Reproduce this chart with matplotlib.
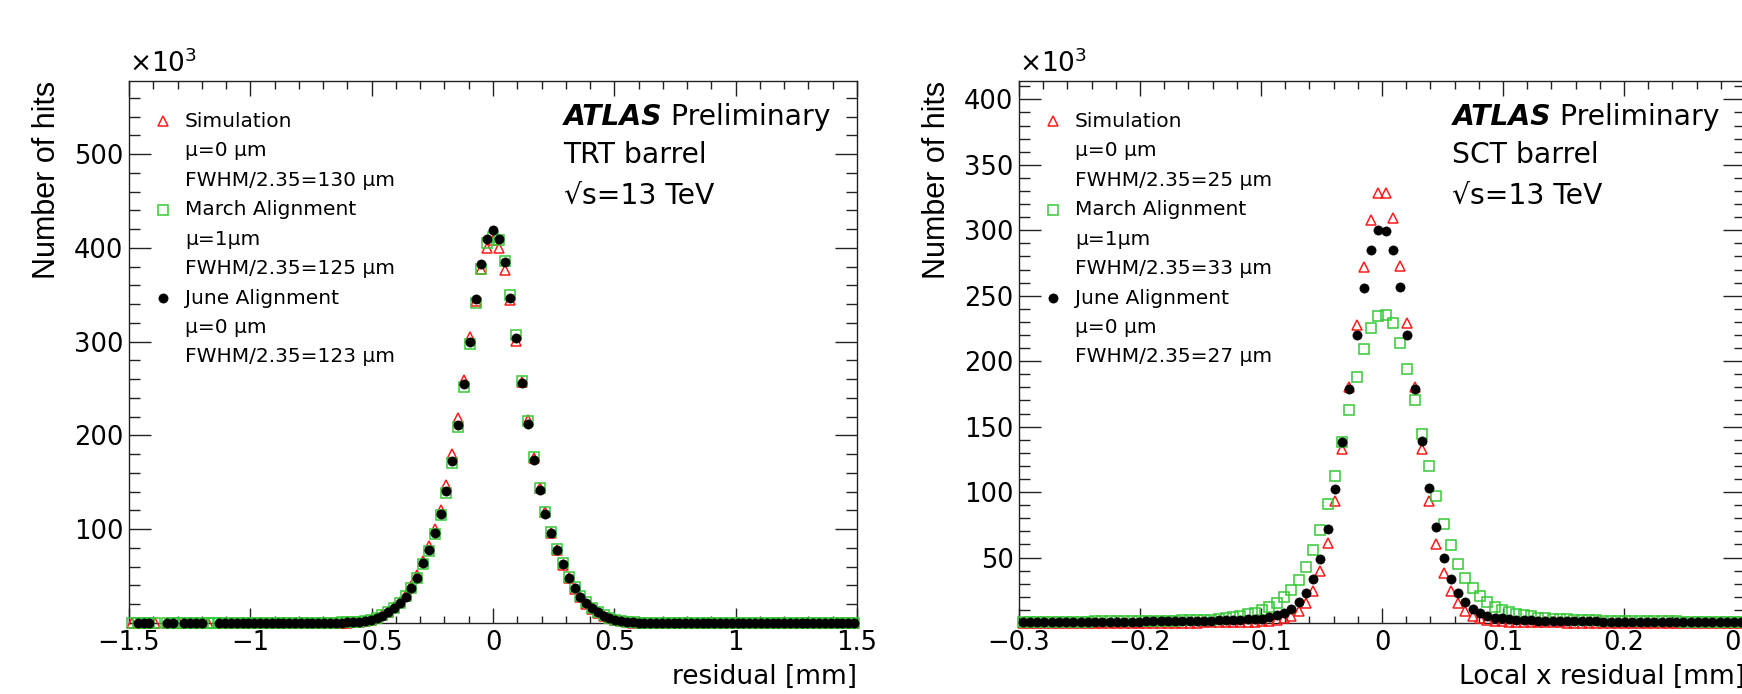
import numpy as np
import matplotlib.pyplot as plt
from matplotlib.ticker import MultipleLocator

plt.rcParams['font.family'] = ['DejaVu Sans']
plt.rcParams['mathtext.fontset'] = 'dejavusans'

nan = np.nan

# TRT barrel residuals: 125 bins in [-1.5, 1.5] mm, counts in 10^3 hits
trt_range = (-1.5, 1.5)
trt_nbins = 125
trt_sim = [
    0.1, 0.1, nan, 0.1, 0.1, nan, 0.1, nan, 0.1, 0.1,
    0.1, 0.1, 0.1, 0.1, nan, 0.1, 0.1, 0.1, 0.1, 0.1,
    0.1, 0.1, 0.1, 0.1, 0.1, 0.1, 0.1, 0.2, 0.2, 0.2,
    0.2, 0.2, 0.2, 0.3, 0.3, 0.3, 0.4, 0.5, 0.8, 1.3,
    2.1, 3.5, 5.6, 8.4, 12, 17, 22.5, 30, 39.5, 51,
    66, 82, 100, 121, 147, 180, 219, 259, 305, 343,
    378, 400, 408, 400, 376, 344, 301, 257, 216, 176,
    144, 118, 96, 78, 62, 48, 36.5, 27.5, 20.5, 15,
    10.8, 7.5, 4.8, 3.0, 1.7, 0.9, 0.5, 0.3, 0.2, 0.2,
    0.2, 0.2, 0.2, 0.2, 0.2, 0.2, 0.2, 0.2, 0.2, 0.2,
    0.1, 0.1, 0.1, 0.1, 0.1, 0.1, 0.1, 0.1, 0.1, 0.1,
    0.1, 0.1, 0.1, 0.1, 0.1, 0.1, 0.1, 0.1, 0.1, 0.1,
    0.1, 0.1, 0.1, 0.1, 0.1,
]
trt_march = [
    0.3, 0.3, 0.3, 0.3, 0.3, nan, 0.3, 0.3, 0.3, 0.3,
    0.3, 0.3, 0.3, 0.3, 0.3, 0.3, 0.3, 0.3, 0.3, 0.3,
    0.3, 0.3, 0.3, 0.3, 0.3, 0.3, 0.4, 0.4, 0.4, 0.4,
    0.4, 0.4, 0.4, 0.5, 0.5, 0.5, 0.6, 0.7, 0.9, 1.3,
    2.2, 3.5, 5.5, 8.2, 11.8, 16.5, 21.5, 28.5, 37.5, 47.5,
    63, 77, 95, 115, 139, 171, 209, 251.6, 298, 341,
    378, 405, 412, 408, 386, 349.5, 307, 258, 215, 177,
    144, 118, 97, 79, 64, 49, 38, 29, 22, 16.3,
    11.8, 8.3, 5.4, 3.6, 2.1, 1.2, 0.7, 0.5, 0.5, 0.4,
    0.4, 0.4, 0.4, 0.4, 0.4, 0.4, 0.4, 0.4, 0.4, 0.4,
    0.4, 0.4, 0.4, 0.4, 0.4, 0.3, 0.3, 0.3, 0.3, 0.3,
    0.3, 0.3, 0.3, 0.3, 0.3, 0.3, 0.3, 0.3, 0.3, 0.3,
    0.3, 0.3, 0.3, 0.3, 0.3,
]
trt_june = [
    nan, 0.2, 0.2, 0.2, nan, nan, 0.2, 0.2, nan, 0.2,
    0.2, 0.2, 0.2, nan, nan, 0.2, 0.2, 0.2, 0.2, 0.2,
    0.2, 0.2, 0.2, 0.2, 0.2, 0.2, 0.3, 0.3, 0.3, 0.3,
    0.3, 0.3, 0.3, 0.4, 0.4, 0.4, 0.5, 0.6, 0.8, 1.2,
    2.0, 3.3, 5.2, 7.9, 11.4, 16, 21, 28, 37.5, 48,
    64, 78, 96, 116.4, 141, 173, 211, 255, 300, 345,
    383, 410, 419, 409, 385, 347, 304, 256, 212.5, 174,
    142, 116.4, 95.8, 78, 63, 48, 37, 28, 21.4, 15.7,
    11.4, 7.9, 5.0, 3.3, 1.8, 1.0, 0.6, 0.4, 0.4, 0.3,
    0.3, 0.3, 0.3, 0.3, 0.3, 0.3, 0.3, 0.3, 0.3, 0.3,
    0.3, 0.3, 0.3, 0.2, 0.2, 0.2, 0.2, 0.2, 0.2, 0.2,
    0.2, 0.2, 0.2, 0.2, 0.2, 0.2, 0.2, 0.2, 0.2, 0.2,
    0.2, 0.2, 0.2, 0.2, 0.2,
]

# SCT barrel local x residuals: 100 bins in [-0.3, 0.3] mm, counts in 10^3 hits
sct_range = (-0.3, 0.3)
sct_nbins = 100
sct_sim = [
    0.1, 0.1, 0.1, 0.1, 0.1, 0.1, 0.1, 0.1, 0.1, 0.1,
    0.1, 0.1, 0.1, 0.1, 0.1, 0.2, 0.2, 0.2, 0.2, 0.2,
    0.2, 0.2, 0.3, 0.3, 0.3, 0.4, 0.4, 0.5, 0.6, 0.7,
    0.8, 0.9, 1.1, 1.3, 1.5, 2.3, 3.5, 5.4, 9.2, 15.5,
    24.5, 39.8, 61, 93.4, 133, 180, 228, 272, 308, 328.7,
    328.7, 309, 272.7, 229, 180, 133, 93, 60, 38, 24.5,
    15.5, 9, 5.4, 3.5, 2.3, 1.5, 1.2, 1.0, 0.8, 0.7,
    0.6, 0.5, 0.5, 0.4, 0.4, 0.3, 0.3, 0.3, 0.2, 0.2,
    0.2, 0.2, 0.2, 0.2, 0.2, 0.2, 0.2, 0.2, 0.2, 0.2,
    0.1, 0.1, 0.1, 0.1, 0.1, 0.1, 0.1, 0.1, 0.1, 0.1,
]
sct_march = [
    0.8, 0.8, 0.9, 0.9, 0.9, 1.0, 1.0, 1.0, 1.1, 1.1,
    1.2, 1.2, 1.3, 1.3, 1.4, 1.4, 1.5, 1.6, 1.6, 1.7,
    1.8, 1.9, 2.0, 2.1, 2.2, 2.4, 2.6, 2.8, 3.5, 4.4,
    5.4, 6.6, 7.9, 10, 12.5, 15.6, 20, 25, 32.7, 42.4,
    55.6, 71, 91, 112.6, 138, 163, 187.8, 209, 225.4, 234.5,
    235.6, 229, 214, 193.7, 170.5, 144.5, 119.7, 96.7, 76, 59.5,
    45.4, 34.7, 27, 20.7, 16, 12.5, 10, 8.4, 6.9, 5.9,
    5.0, 4.2, 3.7, 3.2, 2.9, 2.7, 2.5, 2.3, 2.2, 2.0,
    1.9, 1.8, 1.7, 1.6, 1.5, 1.5, 1.4, 1.3, 1.3, 1.2,
    1.2, 1.1, 1.1, 1.0, 1.0, 1.0, 0.9, 0.9, 0.9, 0.9,
]
sct_june = [
    0.5, 0.5, 0.6, 0.6, 0.6, 0.7, 0.7, 0.7, 0.8, 0.8,
    0.8, 0.9, 0.9, 1.0, 1.0, 1.1, 1.1, 1.2, 1.2, 1.3,
    1.4, 1.4, 1.5, 1.6, 1.7, 1.8, 1.9, 2.0, 2.2, 2.4,
    2.6, 2.9, 3.1, 3.4, 4.4, 5.9, 7.9, 11, 15.8, 23,
    33.5, 48.8, 71.5, 102, 138, 179, 219.7, 256, 284.8, 300.2,
    299.6, 285, 256.5, 220, 179, 139, 103, 73, 49.5, 33.4,
    23, 16, 11, 7.4, 5.5, 4.2, 3.5, 3.0, 2.6, 2.3,
    2.1, 1.9, 1.8, 1.7, 1.6, 1.5, 1.4, 1.3, 1.2, 1.2,
    1.1, 1.0, 1.0, 0.9, 0.9, 0.8, 0.8, 0.8, 0.7, 0.7,
    0.7, 0.6, 0.6, 0.6, 0.6, 0.5, 0.5, 0.5, 0.5, 0.5,
]

series_labels = ["Simulation", "March Alignment", "June Alignment"]
trt_info = [["\u03bc=0 \u03bcm", "FWHM/2.35=130 \u03bcm"],
            ["\u03bc=1\u03bcm", "FWHM/2.35=125 \u03bcm"],
            ["\u03bc=0 \u03bcm", "FWHM/2.35=123 \u03bcm"]]
sct_info = [["\u03bc=0 \u03bcm", "FWHM/2.35=25 \u03bcm"],
            ["\u03bc=1\u03bcm", "FWHM/2.35=33 \u03bcm"],
            ["\u03bc=0 \u03bcm", "FWHM/2.35=27 \u03bcm"]]

# marker styles: ROOT open triangle / open square / full circle
styles = [
    dict(marker='^', ms=7.4, mfc='none', mec='#ff1a1a', mew=1.1),
    dict(marker='s', ms=6.8, mfc='none', mec='#36c936', mew=1.1),
    dict(marker='o', ms=6.6, mfc='black', mec='black', mew=0.5),
]


def bin_centers(rng, n):
    edges = np.linspace(rng[0], rng[1], n + 1)
    return 0.5 * (edges[:-1] + edges[1:])


def draw_panel(ax, rng, nbins, series, info, ylim, xminor, yminor,
               xticks, yticks, xlabel, detector):
    x = bin_centers(rng, nbins)
    for vals, st in zip(series, styles):
        ax.plot(x, np.array(vals, dtype=float), ls='none', clip_on=False,
                zorder=3, **st)

    ax.set_xlim(rng)
    ax.set_ylim(ylim)
    ax.set_xticks(xticks)
    ax.set_xticklabels([f"{t:g}".replace('-', '\u2212') for t in xticks])
    ax.set_yticks(yticks)
    ax.set_yticklabels([f"{t:g}" for t in yticks])
    ax.xaxis.set_minor_locator(MultipleLocator(xminor))
    ax.yaxis.set_minor_locator(MultipleLocator(yminor))
    ax.tick_params(which='both', direction='in', top=True, right=True,
                   width=1.0, color='#222222')
    ax.tick_params(axis='y', which='major', length=15.8, pad=4, labelsize=18.5)
    ax.tick_params(axis='y', which='minor', length=7.9)
    ax.tick_params(axis='x', which='major', length=10.8, pad=5, labelsize=18.5)
    ax.tick_params(axis='x', which='minor', length=5.4)
    for s in ax.spines.values():
        s.set_linewidth(1.0)
        s.set_color('#222222')

    ax.set_xlabel(xlabel, fontsize=19, loc='right')
    ax.xaxis.set_label_coords(1.0, -0.076)
    ax.set_ylabel("Number of hits", fontsize=22, loc='top',
                  family=['Liberation Sans', 'DejaVu Sans'])
    ax.yaxis.set_label_coords(-0.092, 1.0)

    ax.text(0.0, 1.006, r"$\times10^{3}$", transform=ax.transAxes,
            ha='left', va='bottom', fontsize=19)

    # legend block
    row = 0
    for st, lab, extra in zip(styles, series_labels, info):
        ax.plot([0.0467], [0.926 - 0.0544 * row], transform=ax.transAxes,
                ls='none', clip_on=False, **st)
        for j, txt in enumerate([lab] + extra):
            ax.text(0.0769, 0.926 - 0.0544 * (row + j), txt,
                    transform=ax.transAxes, ha='left', va='center',
                    fontsize=14.5)
        row += 3

    t = ax.text(0.597, 0.9336, "ATLAS", transform=ax.transAxes,
                ha='left', va='center', fontsize=20.3, fontweight='bold',
                fontstyle='italic')
    ax.annotate(" Preliminary", xy=(1, 0), xycoords=t, ha='left',
                va='bottom', fontsize=20.3)
    ax.text(0.597, 0.8635, detector, transform=ax.transAxes, ha='left',
            va='center', fontsize=20.3)
    ax.text(0.597, 0.788, "\u221as=13 TeV", transform=ax.transAxes,
            ha='left', va='center', fontsize=20.3)


fig = plt.figure(figsize=(17.42, 6.94), dpi=100)
ax1 = fig.add_axes([129 / 1742, 71 / 694, 728 / 1742, 542 / 694])
ax2 = fig.add_axes([1019 / 1742, 71 / 694, 726 / 1742, 542 / 694])

draw_panel(ax1, trt_range, trt_nbins, [trt_sim, trt_march, trt_june],
           trt_info, (0, 578), 0.1, 20,
           [-1.5, -1, -0.5, 0, 0.5, 1, 1.5], [100, 200, 300, 400, 500],
           "residual [mm]", "TRT barrel")
draw_panel(ax2, sct_range, sct_nbins, [sct_sim, sct_march, sct_june],
           sct_info, (0, 414), 0.02, 10,
           [-0.3, -0.2, -0.1, 0, 0.1, 0.2, 0.3],
           [50, 100, 150, 200, 250, 300, 350, 400],
           "Local x residual [mm]", "SCT barrel")

fig.savefig("out.png", dpi=100)
